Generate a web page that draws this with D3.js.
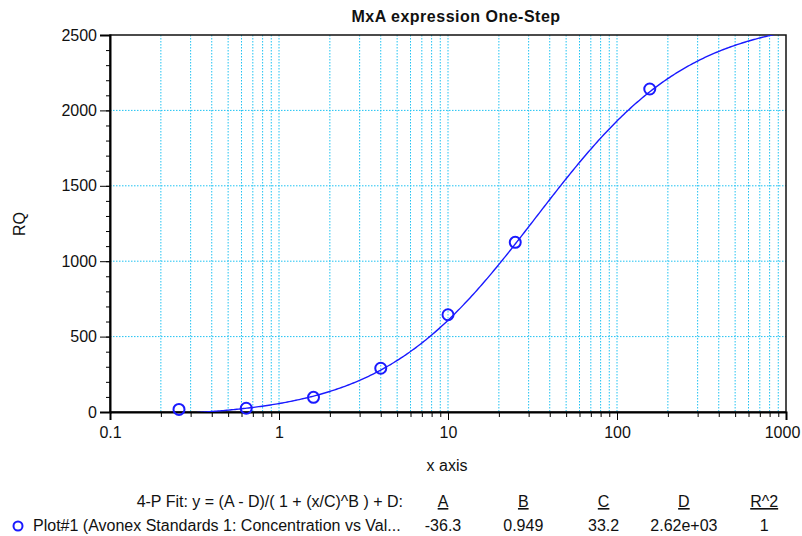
<!DOCTYPE html>
<html>
<head>
<meta charset="utf-8">
<script src="https://cdn.jsdelivr.net/npm/d3@7"></script>
<style>
  body { margin: 0; background: #fff; }
  svg { display: block; font-family: "Liberation Sans", Arial, sans-serif; }
</style>
</head>
<body>
<div id="chart"></div>
<script>
// measured standards (concentration vs RQ)
const concentrations = [0.256, 0.64, 1.6, 4, 10, 25, 156.25];
const rqValues = [17, 25, 97, 290, 645, 1125, 2142];

// 4-P fit parameters shown in the table
const fitNames = ['A', 'B', 'C', 'D', 'R^2'];
const fitLabels = ['-36.3', '0.949', '33.2', '2.62e+03', '1'];
const fitA = -36.3, fitB = 0.949, fitC = 33.2, fitD = 2620;

const yTicks = [0, 500, 1000, 1500, 2000, 2500];
const xTicks = [0.1, 1, 10, 100, 1000];

const W = 802, H = 536;
const margin = { top: 35, right: 16, bottom: 124, left: 110 };
const width = W - margin.left - margin.right;
const height = H - margin.top - margin.bottom;
const gridColor = '#1fc2f2';
const blue = '#1a1aff';
const fontSize = 16;

const svg = d3.select('#chart').append('svg')
  .attr('width', W)
  .attr('height', H);

const g = svg.append('g')
  .attr('transform', `translate(${margin.left},${margin.top})`);

const x = d3.scaleLog().domain([0.1, 1000]).range([0, width]);
const y = d3.scaleLinear().domain([0, 2500]).range([height, 0]);

// minor positions on the log axis: 1..9 per decade
const logMinor = [];
for (let e = -1; e < 3; e++) {
  for (let m = 1; m < 10; m++) logMinor.push(m * Math.pow(10, e));
}
logMinor.push(1000);

// grid
g.append('g').selectAll('line')
  .data(logMinor.filter(d => d > 0.1 && d < 1000))
  .enter().append('line')
  .attr('x1', d => x(d)).attr('x2', d => x(d))
  .attr('y1', 0).attr('y2', height)
  .attr('stroke', gridColor)
  .attr('stroke-width', 1)
  .attr('stroke-dasharray', '1.5,1.5');

g.append('g').selectAll('line')
  .data(yTicks.filter(d => d > 0 && d < 2500))
  .enter().append('line')
  .attr('x1', 0).attr('x2', width)
  .attr('y1', d => y(d)).attr('y2', d => y(d))
  .attr('stroke', gridColor)
  .attr('stroke-width', 1)
  .attr('stroke-dasharray', '1.5,1.5');

// frame
g.append('rect')
  .attr('width', width).attr('height', height)
  .attr('fill', 'none')
  .attr('stroke', '#111')
  .attr('stroke-width', 1.5);

// Y axis: major + minor ticks
const yMinor = d3.range(0, 2501, 100);
g.append('g')
  .call(d3.axisLeft(y).tickValues(yMinor).tickSize(4).tickFormat(''))
  .call(a => a.select('.domain').remove());
g.append('g')
  .call(d3.axisLeft(y).tickValues(yTicks).tickSize(10).tickPadding(3).tickFormat(d3.format('d')))
  .call(a => a.select('.domain').attr('stroke-width', 2))
  .call(a => a.selectAll('text').attr('font-size', fontSize).attr('fill', '#111').attr('font-family', 'Liberation Sans, Arial, sans-serif'));

// X axis
g.append('g')
  .attr('transform', `translate(0,${height})`)
  .call(d3.axisBottom(x).tickValues(logMinor).tickSize(5).tickFormat(''))
  .call(a => a.select('.domain').remove());
g.append('g')
  .attr('transform', `translate(0,${height})`)
  .call(d3.axisBottom(x).tickValues(xTicks).tickSize(8).tickPadding(7).tickFormat(d => d3.format('~g')(d)))
  .call(a => a.select('.domain').attr('stroke-width', 2))
  .call(a => a.selectAll('text').attr('font-size', fontSize).attr('fill', '#111').attr('font-family', 'Liberation Sans, Arial, sans-serif'))
  .call(a => a.selectAll('text').filter(d => d === 1000).attr('dx', -4));

// fitted curve
const fit = v => (fitA - fitD) / (1 + Math.pow(v / fitC, fitB)) + fitD;
const curveX = d3.range(0, 401).map(i => Math.pow(10, -1 + i * 4 / 400));

g.append('clipPath').attr('id', 'plotclip')
  .append('rect').attr('width', width).attr('height', height);

g.append('path')
  .datum(curveX)
  .attr('clip-path', 'url(#plotclip)')
  .attr('fill', 'none')
  .attr('stroke', blue)
  .attr('stroke-width', 1.4)
  .attr('d', d3.line().x(d => x(d)).y(d => y(fit(d))));

// points
g.selectAll('circle.pt')
  .data(concentrations)
  .enter().append('circle')
  .attr('class', 'pt')
  .attr('cx', d => x(d))
  .attr('cy', (d, i) => y(rqValues[i]))
  .attr('r', 5.5)
  .attr('fill', 'none')
  .attr('stroke', blue)
  .attr('stroke-width', 2);

// titles
svg.append('text')
  .attr('x', 456).attr('y', 22)
  .attr('text-anchor', 'middle')
  .attr('font-size', 16).attr('font-weight', 'bold')
  .attr('letter-spacing', 0.5)
  .attr('fill', '#111')
  .text('MxA expression One-Step');

svg.append('text')
  .attr('transform', 'translate(25,224) rotate(-90)')
  .attr('text-anchor', 'middle')
  .attr('font-size', fontSize)
  .attr('fill', '#111')
  .text('RQ');

svg.append('text')
  .attr('x', 447).attr('y', 471)
  .attr('text-anchor', 'middle')
  .attr('font-size', fontSize)
  .attr('fill', '#111')
  .text('x axis');

// fit table
svg.append('text')
  .attr('x', 403).attr('y', 507)
  .attr('text-anchor', 'end')
  .attr('font-size', fontSize)
  .attr('fill', '#111')
  .text('4-P Fit:  y = (A - D)/( 1 + (x/C)^B ) + D:');

const colX = i => 443 + i * 80.3;
svg.append('g').selectAll('text')
  .data(fitNames)
  .enter().append('text')
  .attr('x', (d, i) => colX(i)).attr('y', 507)
  .attr('text-anchor', 'middle')
  .attr('font-size', fontSize)
  .attr('text-decoration', 'underline')
  .attr('fill', '#111')
  .text(d => d);

svg.append('circle')
  .attr('cx', 18).attr('cy', 526)
  .attr('r', 4.5)
  .attr('fill', 'none')
  .attr('stroke', blue)
  .attr('stroke-width', 2);

svg.append('text')
  .attr('x', 33).attr('y', 531)
  .attr('font-size', fontSize)
  .attr('fill', '#111')
  .text('Plot#1 (Avonex Standards 1: Concentration vs Val...');

svg.append('g').selectAll('text')
  .data(fitLabels)
  .enter().append('text')
  .attr('x', (d, i) => colX(i)).attr('y', 531)
  .attr('text-anchor', 'middle')
  .attr('font-size', fontSize)
  .attr('fill', '#111')
  .text(d => d);
</script>
</body>
</html>
